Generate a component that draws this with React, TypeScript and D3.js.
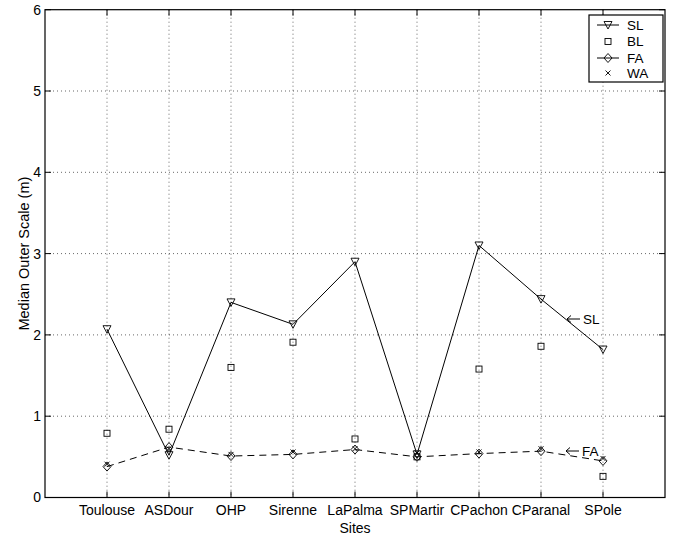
import React from "react";
import * as d3 from "d3";

const sites = ["Toulouse", "ASDour", "OHP", "Sirenne", "LaPalma", "SPMartir", "CPachon", "CParanal", "SPole"];
const slValues = [2.07, 0.52, 2.40, 2.13, 2.90, 0.53, 3.10, 2.44, 1.82];
const blValues = [0.79, 0.84, 1.60, 1.91, 0.72, 0.50, 1.58, 1.86, 0.26];
const faValues = [0.38, 0.62, 0.51, 0.53, 0.59, 0.50, 0.54, 0.57, 0.45];
const waValues = [0.41, 0.60, 0.53, 0.56, 0.60, 0.55, 0.56, 0.60, 0.48];
const yTicks = [0, 1, 2, 3, 4, 5, 6];

const W = 683, H = 537;
const L = 45, R = 665, T = 9.7, B = 497.5;
const FONT = "'Liberation Sans', Arial, Helvetica, sans-serif";

export default function App() {
  const x = d3.scaleLinear().domain([0, sites.length + 1]).range([L, R]);
  const y = d3.scaleLinear().domain([0, 6]).range([B, T]);
  const line = d3.line<number>().x((_, i) => x(i + 1)).y((d) => y(d));

  const tri = (cx: number, cy: number, key: string) => (
    <path key={key} d={`M${cx - 4},${cy - 3.5}L${cx + 4},${cy - 3.5}L${cx},${cy + 4}Z`} fill="none" stroke="#000" strokeWidth={0.9} />
  );
  const sq = (cx: number, cy: number, key: string) => (
    <rect key={key} x={cx - 3} y={cy - 3} width={6} height={6} fill="none" stroke="#000" strokeWidth={0.9} />
  );
  const dia = (cx: number, cy: number, key: string) => (
    <path key={key} d={`M${cx},${cy - 4.5}L${cx + 4},${cy}L${cx},${cy + 4.5}L${cx - 4},${cy}Z`} fill="none" stroke="#000" strokeWidth={0.9} />
  );
  const cross = (cx: number, cy: number, key: string) => (
    <path key={key} d={`M${cx - 2.5},${cy - 2.5}L${cx + 2.5},${cy + 2.5}M${cx - 2.5},${cy + 2.5}L${cx + 2.5},${cy - 2.5}`} fill="none" stroke="#000" strokeWidth={0.9} />
  );

  const legendItems = [
    { label: "SL", marker: tri, line: true },
    { label: "BL", marker: sq, line: false },
    { label: "FA", marker: dia, line: true },
    { label: "WA", marker: cross, line: false },
  ];
  const legRows = [25, 41.5, 58, 73];

  const arrow = (x0: number, yy: number, label: string) => (
    <g key={"ann" + label}>
      <path d={`M${x0},${yy}L${x0 + 13},${yy}M${x0 + 4},${yy - 3.5}L${x0},${yy}L${x0 + 4},${yy + 3.5}`} fill="none" stroke="#000" strokeWidth={1} />
      <text x={x0 + 16} y={yy} dy="0.36em" fontSize={13.5}>{label}</text>
    </g>
  );

  return (
    <svg width={W} height={H} style={{ position: "absolute", left: 0, top: 0, background: "#fff" }} fontFamily={FONT}>
      <rect x={0} y={0} width={W} height={H} fill="#fff" />
      {yTicks.slice(1, -1).map((t) => (
        <line key={"gy" + t} x1={L} x2={R} y1={y(t)} y2={y(t)} stroke="#000" strokeWidth={0.6} strokeDasharray="1,3" />
      ))}
      {sites.map((s, i) => (
        <line key={"gx" + s} x1={x(i + 1)} x2={x(i + 1)} y1={T} y2={B} stroke="#000" strokeWidth={0.6} strokeDasharray="1,3" />
      ))}
      {yTicks.map((t) => (
        <g key={"ty" + t}>
          <line x1={L} x2={L + 6} y1={y(t)} y2={y(t)} stroke="#000" />
          <line x1={R} x2={R - 6} y1={y(t)} y2={y(t)} stroke="#000" />
          <text x={L - 4} y={y(t)} dy="0.35em" textAnchor="end" fontSize={14}>{t}</text>
        </g>
      ))}
      {sites.map((s, i) => (
        <g key={"tx" + s}>
          <line x1={x(i + 1)} x2={x(i + 1)} y1={B} y2={B - 6} stroke="#000" />
          <line x1={x(i + 1)} x2={x(i + 1)} y1={T} y2={T + 6} stroke="#000" />
          <text x={x(i + 1)} y={B + 17} textAnchor="middle" fontSize={14}>{s}</text>
        </g>
      ))}
      <rect x={L} y={T} width={R - L} height={B - T} fill="none" stroke="#000" strokeWidth={1.2} />
      <path d={line(slValues) || ""} fill="none" stroke="#000" strokeWidth={1} />
      <path d={line(faValues) || ""} fill="none" stroke="#000" strokeWidth={1} strokeDasharray="7,5" />
      {blValues.map((v, i) => sq(x(i + 1), y(v), "bl" + i))}
      {waValues.map((v, i) => cross(x(i + 1), y(v), "wa" + i))}
      {faValues.map((v, i) => dia(x(i + 1), y(v), "fa" + i))}
      {slValues.map((v, i) => tri(x(i + 1), y(v), "sl" + i))}
      {arrow(567, 319, "SL")}
      {arrow(566, 451, "FA")}
      <rect x={589} y={15} width={74} height={67} fill="#fff" stroke="#000" strokeWidth={1.2} />
      {legendItems.map((it, i) => (
        <g key={"leg" + i}>
          {it.line && <line x1={597} x2={619} y1={legRows[i]} y2={legRows[i]} stroke="#000" />}
          {it.marker(608, legRows[i], "lm" + i)}
          <text x={627} y={legRows[i]} dy="0.36em" fontSize={13.5}>{it.label}</text>
        </g>
      ))}
      <text transform={`translate(29,${(T + B) / 2}) rotate(-90)`} textAnchor="middle" fontSize={14.5}>Median Outer Scale (m)</text>
      <text x={(L + R) / 2} y={533} textAnchor="middle" fontSize={14}>Sites</text>
    </svg>
  );
}
